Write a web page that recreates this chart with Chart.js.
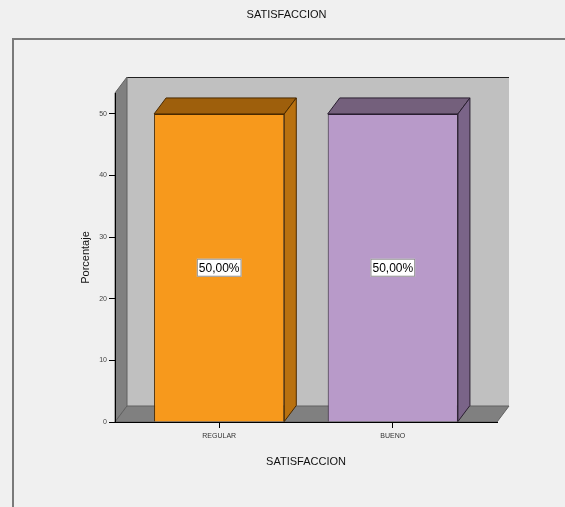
<!DOCTYPE html>
<html lang="es">
<head>
<meta charset="UTF-8">
<title>SATISFACCION</title>
<script src="https://cdn.jsdelivr.net/npm/chart.js"></script>
<style>
  html, body { margin: 0; padding: 0; background: #f0f0f0; }
  #wrap { width: 565px; height: 507px; }
</style>
</head>
<body>
<div id="wrap"><canvas id="chartSatisfaccion" width="565" height="507"></canvas></div>
<script>
  // Datos
  const categorias = ['REGULAR', 'BUENO'];
  const porcentajes = [50, 50];
  const ticksY = [0, 10, 20, 30, 40, 50];

  const frente = ['#f7991c', '#b89ac9'];
  const tapa = ['#9e5f0c', '#74607c'];
  const lado = ['#b9710f', '#7a6488'];
  const bordes = ['#4a2a00', '#2a1f30'];

  // profundidad del efecto 3D
  const DX = 12, DY = -16;

  const fuente = 'Liberation Sans, Arial, sans-serif';

  function poly(ctx, pts, fill, stroke) {
    ctx.beginPath();
    ctx.moveTo(pts[0][0], pts[0][1]);
    for (let i = 1; i < pts.length; i++) ctx.lineTo(pts[i][0], pts[i][1]);
    ctx.closePath();
    ctx.fillStyle = fill;
    ctx.fill();
    if (stroke) { ctx.strokeStyle = stroke; ctx.lineWidth = 1; ctx.stroke(); }
  }

  // Marco, paredes y suelo
  const paredes3D = {
    id: 'paredes3D',
    beforeDraw(chart) {
      const { ctx, chartArea: a } = chart;
      ctx.save();
      // marco exterior
      ctx.strokeStyle = '#7a7a7a';
      ctx.lineWidth = 2;
      ctx.beginPath();
      ctx.moveTo(13, chart.height);
      ctx.lineTo(13, 39);
      ctx.lineTo(chart.width, 39);
      ctx.stroke();
      // pared del fondo
      poly(ctx, [[a.left + DX, a.top + DY], [a.right + DX, a.top + DY], [a.right + DX, a.bottom + DY], [a.left + DX, a.bottom + DY]], '#c0c0c0');
      ctx.strokeStyle = '#202020';
      ctx.lineWidth = 1;
      ctx.beginPath();
      ctx.moveTo(a.left + DX, a.top + DY + 0.5);
      ctx.lineTo(a.right + DX, a.top + DY + 0.5);
      ctx.stroke();
      // pared izquierda
      poly(ctx, [[a.left, a.top], [a.left + DX, a.top + DY], [a.left + DX, a.bottom + DY], [a.left, a.bottom]], '#808080', '#606060');
      // suelo
      poly(ctx, [[a.left, a.bottom], [a.left + DX, a.bottom + DY], [a.right + DX, a.bottom + DY], [a.right, a.bottom]], '#808080', '#606060');
      ctx.restore();
    },
    afterDatasetsDraw(chart) {
      const { ctx } = chart;
      const meta = chart.getDatasetMeta(0);
      ctx.save();
      meta.data.forEach((bar, i) => {
        const { x, y, base, width } = bar.getProps(['x', 'y', 'base', 'width'], true);
        const x0 = x - width / 2, x1 = x + width / 2;
        // tapa superior
        poly(ctx, [[x0, y], [x0 + DX, y + DY], [x1 + DX, y + DY], [x1, y]], tapa[i], bordes[i]);
        // lado derecho
        poly(ctx, [[x1, y], [x1 + DX, y + DY], [x1 + DX, base + DY], [x1, base]], lado[i], bordes[i]);
        // etiqueta de valor
        const txt = porcentajes[i].toFixed(2).replace('.', ',') + '%';
        ctx.font = '12px ' + fuente;
        const w = ctx.measureText(txt).width + 4;
        const cy = (y + base) / 2;
        ctx.fillStyle = '#ffffff';
        ctx.fillRect(x - w / 2, cy - 9, w, 18);
        ctx.strokeStyle = '#909090';
        ctx.strokeRect(x - w / 2 + 0.5, cy - 8.5, w - 1, 17);
        ctx.fillStyle = '#000000';
        ctx.textAlign = 'center';
        ctx.textBaseline = 'middle';
        ctx.fillText(txt, x, cy + 1);
      });
      ctx.restore();
    }
  };

  const ctx = document.getElementById('chartSatisfaccion').getContext('2d');
  new Chart(ctx, {
    type: 'bar',
    data: {
      datasets: [{
        label: 'Porcentaje',
        data: porcentajes.map((v, i) => ({ x: i, y: v })),
        backgroundColor: frente,
        borderColor: bordes,
        borderWidth: { top: 1, left: 1, right: 1, bottom: 0 },
        barPercentage: 0.75,
        categoryPercentage: 1
      }]
    },
    options: {
      responsive: false,
      animation: false,
      layout: { padding: { left: 76, right: 68, top: 0, bottom: 0 } },
      plugins: {
        legend: { display: false },
        tooltip: { enabled: false },
        title: {
          display: true,
          text: 'SATISFACCION',
          color: '#111',
          font: { family: fuente, size: 11, weight: 'normal' },
          padding: { top: 8, bottom: 71.8 }
        }
      },
      scales: {
        x: {
          type: 'linear',
          min: -0.6,
          max: 1.6,
          offset: false,
          afterBuildTicks: s => { s.ticks = categorias.map((c, i) => ({ value: i })); },
          afterFit: s => { s.height = 85; },
          ticks: {
            callback: v => categorias[v],
            color: '#333',
            font: { family: fuente, size: 7 },
            padding: 4,
            maxRotation: 0
          },
          grid: { drawOnChartArea: false, offset: false, tickLength: 6, color: '#000' },
          border: { color: '#000' },
          title: {
            display: true,
            text: 'SATISFACCION',
            color: '#111',
            font: { family: fuente, size: 11 },
            padding: { top: 0, bottom: 38.4 }
          }
        },
        y: {
          min: 0,
          max: 53.4,
          afterBuildTicks: s => { s.ticks = ticksY.map(v => ({ value: v })); },
          afterFit: s => { s.width = 39; },
          ticks: {
            color: '#444',
            font: { family: fuente, size: 7 },
            padding: 2
          },
          grid: { drawOnChartArea: false, tickLength: 6, color: '#000' },
          border: { color: '#000' },
          title: {
            display: true,
            text: 'Porcentaje',
            color: '#111',
            font: { family: fuente, size: 11 },
            padding: { top: 3, bottom: 0 }
          }
        }
      }
    },
    plugins: [paredes3D]
  });
</script>
</body>
</html>
